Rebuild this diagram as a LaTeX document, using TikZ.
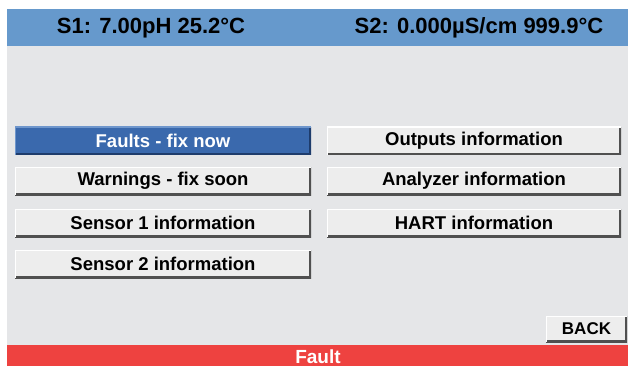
\documentclass[tikz,border=0pt]{standalone}
\usepackage{fontspec}
\setmainfont{Liberation Sans}
\definecolor{hdrblue}{HTML}{6699CC}
\definecolor{bodygray}{HTML}{E5E6E8}
\definecolor{footred}{HTML}{EE4240}
\definecolor{btnfill}{HTML}{EDEDED}
\definecolor{btnshadow}{HTML}{505050}
\definecolor{selblue}{HTML}{3A69AD}
\definecolor{selshadow}{HTML}{1E3C6C}
\definecolor{selhi}{HTML}{6E96CC}
\begin{document}
\begin{tikzpicture}[x=1pt,y=-1pt,
  btnbase/.style={inner sep=0pt, font=\bfseries\fontsize{18.5}{20}\selectfont},
  btn/.style={btnbase, fill=btnfill, text=black,
    path picture={
      \draw[btnshadow, line width=4pt] (path picture bounding box.south west) -- (path picture bounding box.south east) -- (path picture bounding box.north east);
      \draw[white, line width=2pt] (path picture bounding box.south west) -- (path picture bounding box.north west) -- (path picture bounding box.north east);
    }},
  selbtn/.style={btnbase, fill=selblue, text=white,
    path picture={
      \draw[selshadow, line width=4pt] (path picture bounding box.south west) -- (path picture bounding box.south east) -- (path picture bounding box.north east);
      \draw[selhi, line width=2pt] (path picture bounding box.south west) -- (path picture bounding box.north west) -- (path picture bounding box.north east);
    }},
  leftbtn/.style={minimum width=296pt, minimum height=28pt},
  rightbtn/.style={minimum width=294pt, minimum height=28pt},
  hdrtext/.style={text=black, inner sep=0pt, font=\bfseries\fontsize{22}{24}\selectfont}
]
\useasboundingbox (0,0) rectangle (628,366);
\fill[white] (0,0) rectangle (628,366);
% screen areas
\fill[hdrblue] (7,9) rectangle (628,46);
\fill[bodygray] (7,46) rectangle (628,345);
\fill[footred] (7,345) rectangle (628,366);
% header texts
\node[hdrtext] (s1) at (151,28) {S1: 7.00pH 25.2°C};
\node[hdrtext] (s2) at (479,28) {S2: 0.000µS/cm 999.9°C};
% buttons left
\node[selbtn, leftbtn] (faults) at (163,141) {Faults - fix now};
\node[btn, leftbtn] (warn) at (163,181) {Warnings - fix soon};
\node[btn, leftbtn] (sens1) at (163,223) {Sensor 1 information};
\node[btn, leftbtn] (sens2) at (163,264) {Sensor 2 information};
% buttons right
\node[btn, rightbtn] (outputs) at (474,141) {Outputs information};
\node[btn, rightbtn] (analyzer) at (474,181) {Analyzer information};
\node[btn, rightbtn] (hart) at (474,223) {HART information};
% back
\node[btn, minimum width=81pt, minimum height=26pt, font=\bfseries\fontsize{17}{19}\selectfont] (back) at (586.5,329) {BACK};
% footer
\node[anchor=base, inner sep=0pt, text=white, font=\bfseries\fontsize{19}{21}\selectfont] (fault) at (318,363) {Fault};
\end{tikzpicture}
\end{document}
